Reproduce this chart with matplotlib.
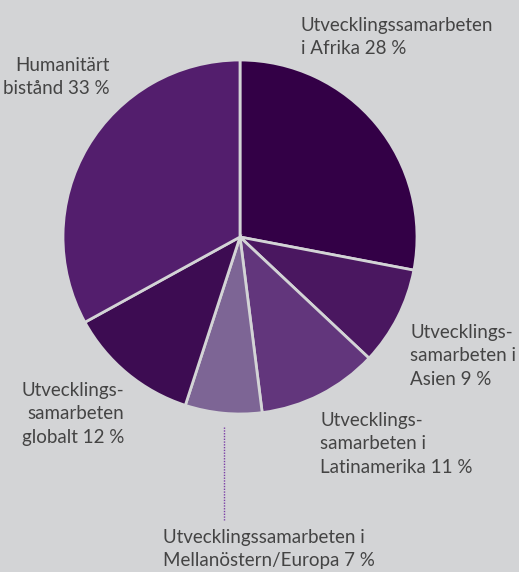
import matplotlib
matplotlib.use("Agg")
import matplotlib.pyplot as plt

# andel av biståndet per område (%)
omraden = ["Afrika", "Asien", "Latinamerika", "Mellanöstern/Europa", "globalt", "Humanitärt"]
andelar = [28, 9, 11, 7, 12, 33]
farger = ["#330046", "#4a1760", "#62367c", "#7d6595", "#3d0c52", "#531e6d"]
etiketter = [
    "Utvecklingssamarbeten\ni Afrika 28 %",
    "Utvecklings-\nsamarbeten i\nAsien 9 %",
    "Utvecklings-\nsamarbeten i\nLatinamerika 11 %",
    "Utvecklingssamarbeten i\nMellanöstern/Europa 7 %",
    "Utvecklings-\nsamarbeten\nglobalt 12 %",
    "Humanitärt\nbistånd 33 %",
]

bg = "#d3d4d6"
W, H = 519, 572

fig = plt.figure(figsize=(W / 100, H / 100), dpi=100, facecolor=bg)
ax = fig.add_axes([0, 0, 1, 1])
ax.set_facecolor(bg)

ax.pie(andelar, colors=farger, startangle=90, counterclock=False,
       center=(240, H - 237), radius=177, frame=True,
       wedgeprops=dict(edgecolor=bg, linewidth=2))
ax.set_xlim(0, W)
ax.set_ylim(0, H)
ax.set_aspect("auto")
ax.axis("off")

# etikettpositioner: (x, y för första radens mitt, justering)
pos = [
    (301, 24, "left"),
    (410, 331, "left"),
    (320, 419, "left"),
    (163, 536, "left"),
    (124, 389, "right"),
    (110, 64, "right"),
]
for lab, (x, y, ha) in zip(etiketter, pos):
    ax.text(x, H - y + 7, lab, ha=ha, va="top", multialignment=ha,
            fontsize=13.5, color="#444444", family="Lato",
            linespacing=1.45)

# prickad linje till Mellanöstern
ax.plot([224, 224], [H - 427, H - 520], color="#7b3fa6", lw=1, ls=(0, (1, 1)))

fig.savefig("out.png", dpi=100, facecolor=bg)
